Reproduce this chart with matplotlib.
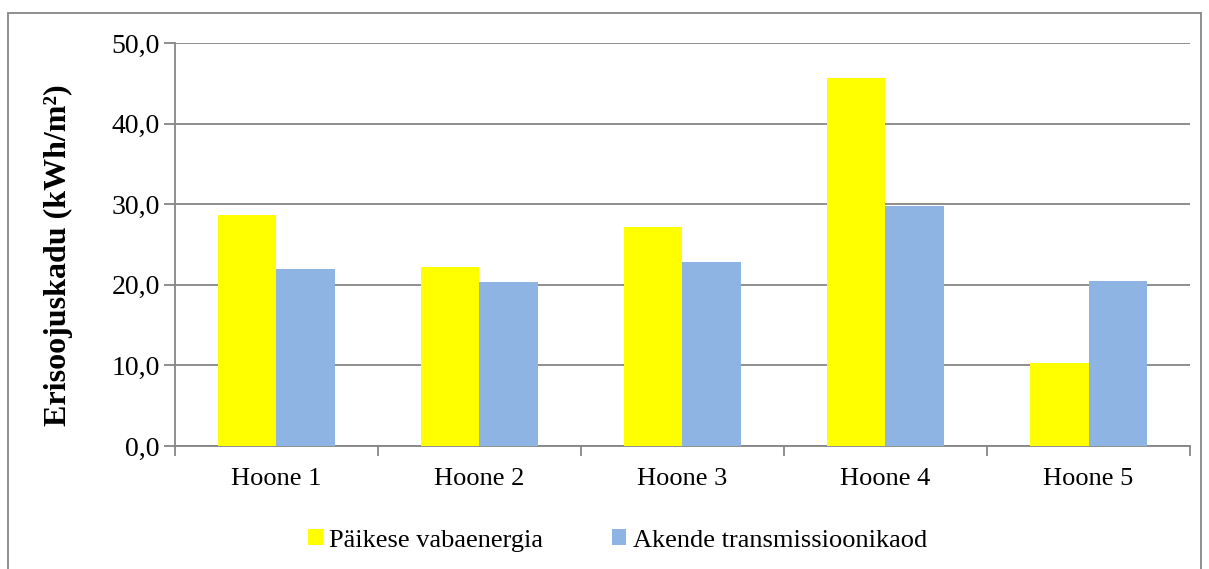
import numpy as np
import matplotlib.pyplot as plt
from matplotlib.patches import Rectangle

categories = ['Hoone 1', 'Hoone 2', 'Hoone 3', 'Hoone 4', 'Hoone 5']
paike = [28.6, 22.2, 27.2, 45.6, 10.3]
akende = [22.0, 20.3, 22.8, 29.8, 20.5]
series_names = ['Päikese vabaenergia', 'Akende transmissioonikaod']
yticks = [0, 10, 20, 30, 40, 50]

plt.rcParams['font.family'] = ['Liberation Serif', 'DejaVu Serif']

fig = plt.figure(figsize=(12.09, 5.69), dpi=100)
ax = fig.add_axes([0.1447, 0.2162, 0.8396, 0.7082])

x = np.arange(len(categories))
w = 0.286
ax.bar(x - w / 2, paike, w, color='#FFFF00', label=series_names[0], zorder=3)
ax.bar(x + w / 2, akende, w, color='#8EB4E3', label=series_names[1], zorder=3)

ax.set_xlim(-0.5, len(categories) - 0.5)
ax.set_ylim(0, 50)
ax.set_yticks(yticks)
ax.set_yticklabels([f'{v:.1f}'.replace('.', ',') for v in yticks], fontsize=20)
ax.set_xticks(x)
ax.set_xticklabels(categories, fontsize=19)
ax.set_xticks(np.arange(len(categories) + 1) - 0.5, minor=True)
ax.tick_params(axis='x', which='major', length=0, pad=16)
ax.tick_params(axis='x', which='minor', length=7, color='#868686', width=1.3)
ax.tick_params(axis='y', length=8, color='#868686', width=1.3, pad=3)

ax.yaxis.grid(True, color='#868686', linewidth=1.3, zorder=0)
for s in ['top', 'right']:
    ax.spines[s].set_visible(False)
for s in ['left', 'bottom']:
    ax.spines[s].set_color('#868686')
    ax.spines[s].set_linewidth(1.3)

ax.set_ylabel('Erisoojuskadu (kWh/m²)', fontsize=23, fontweight='bold')
ax.yaxis.set_label_coords(-0.1, 0.474)

fig.legend(loc='center', bbox_to_anchor=(0.511, 0.05), ncol=2, frameon=False,
           fontsize=19, handlelength=0.55, handleheight=0.55, handletextpad=0.25,
           columnspacing=2.6)

fig.patches.append(Rectangle((0.0066, -0.01), 0.987, 0.987, transform=fig.transFigure,
                             fill=False, edgecolor='#868686', linewidth=1.3))

fig.savefig('out.png', dpi=100)
